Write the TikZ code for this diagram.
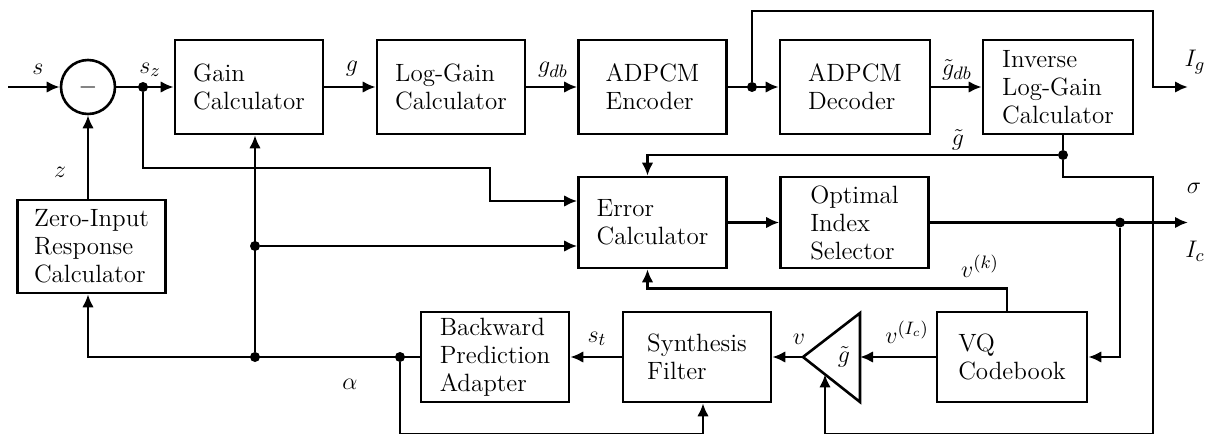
\documentclass[tikz,border=0pt]{standalone}
\usetikzlibrary{arrows.meta,calc}
\begin{document}
\begin{tikzpicture}[x=0.5pt,y=-0.5pt,
  blk/.style={draw, line width=1.3pt, align=left, inner sep=0pt,
    minimum width=74pt, minimum height=47pt, font=\fontsize{12.5}{14}\selectfont},
  lbl/.style={font=\fontsize{12.5}{14}\selectfont, inner sep=0pt},
  dot/.style={circle, fill, inner sep=0pt, minimum size=5pt},
  wire/.style={line width=1.3pt},
  arr/.style={wire, -{Latex[length=6.5pt,width=5.8pt]}}]
\useasboundingbox (0,0) rectangle (1211,434);
\clip (0,0) rectangle (1211,434);

% top row
\node[draw, circle, line width=1.3pt, minimum size=27pt, inner sep=0pt,
  font=\fontsize{12.5}{14}\selectfont] (sub) at (88,87) {$-$};
\node[blk] (gain) at (249,87) {Gain\\Calculator};
\node[blk] (lgc) at (451,87) {Log-Gain\\Calculator};
\node[blk] (enc) at (652.5,87) {ADPCM\\Encoder};
\node[blk, minimum width=75pt] (dec) at (855,87) {ADPCM\\Decoder};
\node[blk, minimum width=75pt] (inv) at (1058,87) {Inverse\\Log-Gain\\Calculator};

% middle row
\node[blk, minimum height=45.5pt] (err) at (652.5,222.5) {Error\\Calculator};
\node[blk, minimum height=45.5pt] (opt) at (854.5,222.5) {Optimal\\Index\\Selector};
\node[blk, minimum height=46.5pt] (zero) at (91.5,246.5) {Zero-Input\\Response\\Calculator};

% bottom row
\node[blk, minimum height=45pt] (bpa) at (495,357) {Backward\\Prediction\\Adapter};
\node[blk, minimum height=45pt] (syn) at (697,357) {Synthesis\\Filter};
\node[blk, minimum height=45pt, minimum width=75pt] (vq) at (1012,357) {VQ\\Codebook};

% gain stage
\coordinate (tA) at (803,357);
\coordinate (tT) at (860,313);
\coordinate (tB) at (860,402);
\coordinate (tR) at (860,357);
\draw[wire, line join=miter] (tA) -- (tT) -- (tB) -- cycle;
\node[lbl] (tg) at (844,357) {$\tilde g$};
\coordinate (tin) at ($(tA)!0.386!(tB)$);

% junctions
\node[dot] (jsz) at (143,87) {};
\node[dot] (jenc) at (752,87) {};
\node[dot] (jg) at (1063,155) {};
\node[dot] (jic) at (1120,222.5) {};
\node[dot] (jm) at (255,246) {};
\node[dot] (jb) at (255,357) {};
\node[dot] (ja) at (400,357) {};

% free ends and corners
\coordinate (sin) at (8,87);
\coordinate (szc) at (490,168);
\coordinate (igc) at (1153,11);
\coordinate (igb) at (1153,87);
\coordinate (igout) at (1188,87);
\coordinate (icout) at (1188,222.5);
\coordinate (sgc) at (1153,177);
\coordinate (sgb) at (1153,434);
\coordinate (ab) at (400,434);

% forward path
\draw[arr] (sin) -- (sub.west);
\draw[arr] (sub.east) -- (gain.west);
\draw[arr] (gain.east) -- (lgc.west);
\draw[arr] (lgc.east) -- (enc.west);
\draw[arr] (enc.east) -- (dec.west);
\draw[arr] (dec.east) -- (inv.west);
\draw[arr] (jenc) |- (igc) -- (igb) -- (igout);

% gain feedback
\draw[arr] (inv.south -| jg) -- (jg) -| ([xshift=-2.5pt]err.north);
\draw[arr] (jg) |- (sgc) -- (sgb) -| (tin);

% error calculator inputs
\draw[arr] (jsz) |- (szc) |- ([yshift=10.75pt]err.west);
\draw[arr] (jm) -- (jm -| err.west);
\draw[arr] (err.east) -- (opt.west);
\draw[arr] (opt.east) -- (icout);
\draw[arr] (jic) |- (vq.east);
\draw[arr] ([xshift=-2.5pt]vq.north) -- ++(0,-22) -| ([xshift=-2.5pt]err.south);

% synthesis path
\draw[arr] (vq.west) -- (tR);
\draw[arr] (tA) -- (syn.east);
\draw[arr] (syn.west) -- (bpa.east);
\draw[arr] (bpa.west) -| (zero.south -| sub.south);
\draw[arr] (zero.north -| sub.south) -- (sub.south);
\draw[arr] (jb) -- ([xshift=3pt]gain.south);
\draw[arr] (ja) -- (ab) -| ([xshift=3pt]syn.south);

% signal labels
\node[lbl] (ls) at (38,69) {$s$};
\node[lbl] (lsz) at (150,70) {$s_z$};
\node[lbl] (lz) at (60,172) {$z$};
\node[lbl] (lg) at (352,69) {$g$};
\node[lbl] (lgdb) at (553,70) {$g_{db}$};
\node[lbl] (ltgdb) at (957,70) {$\tilde g_{db}$};
\node[lbl] (lIg) at (1195,62) {$I_g$};
\node[lbl] (ltg) at (958,140) {$\tilde g$};
\node[lbl] (lsig) at (1194,188) {$\sigma$};
\node[lbl] (lIc) at (1195,251) {$I_c$};
\node[lbl] (lvk) at (980,266) {$v^{(k)}$};
\node[lbl] (lvi) at (907,332) {$v^{(I_c)}$};
\node[lbl] (lv) at (799,339) {$v$};
\node[lbl] (lst) at (597,339) {$s_t$};
\node[lbl] (lal) at (350,384) {$\alpha$};
\end{tikzpicture}
\end{document}
